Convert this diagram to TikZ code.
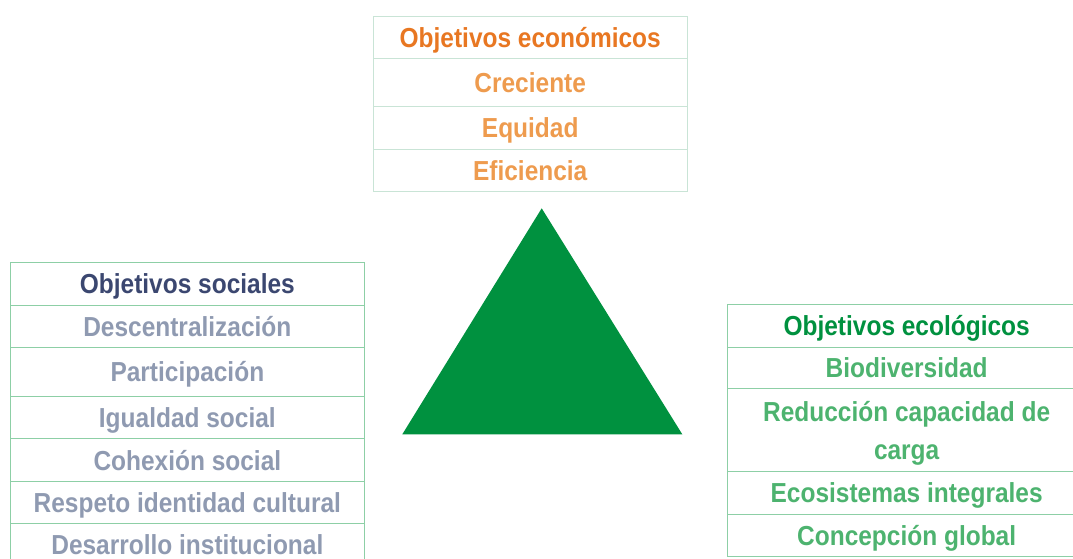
\documentclass[tikz,border=0pt]{standalone}
\usepackage{fontspec}
\setmainfont{Liberation Sans}[FakeStretch=0.89]
\definecolor{econHead}{RGB}{232,119,34}
\definecolor{econItem}{RGB}{238,155,78}
\definecolor{socHead}{RGB}{59,71,112}
\definecolor{socItem}{RGB}{143,154,177}
\definecolor{ecoHead}{RGB}{0,145,63}
\definecolor{ecoItem}{RGB}{77,179,111}
\definecolor{triGreen}{RGB}{0,145,63}
\definecolor{lineTop}{RGB}{201,228,214}
\definecolor{lineSide}{RGB}{141,207,166}
\tikzset{
  cell/.style={draw=#1, line width=1pt, rectangle, inner sep=0pt, align=center,
    text height=20pt, text depth=0pt,
    font=\fontsize{27.5}{38}\selectfont\bfseries},
  topcell/.style={cell=lineTop, minimum width=313.7pt},
  leftcell/.style={cell=lineSide, minimum width=353.3pt},
  rightcell/.style={cell=lineSide, minimum width=358.7pt},
}
\begin{document}
\begin{tikzpicture}[x=1pt,y=-1pt]
\useasboundingbox (0,0) rectangle (1073,558);
\clip (0,0) rectangle (1073,558);
% top table
\node[topcell, minimum height=42pt, text=econHead] (e0) at (530.2,37) {Objetivos económicos};
\node[topcell, minimum height=48.5pt, text=econItem] (e1) at (530.2,82.25) {Creciente};
\node[topcell, minimum height=42.8pt, text=econItem] (e2) at (530.2,127.9) {Equidad};
\node[topcell, minimum height=41.7pt, text=econItem] (e3) at (530.2,170.15) {Eficiencia};
% left table
\node[leftcell, minimum height=42.7pt, text=socHead] (s0) at (187.35,283.65) {Objetivos sociales};
\node[leftcell, minimum height=42.3pt, text=socItem] (s1) at (187.35,326.15) {Descentralización};
\node[leftcell, minimum height=49pt, text=socItem] (s2) at (187.35,371.8) {Participación};
\node[leftcell, minimum height=42.4pt, text=socItem] (s3) at (187.35,417.5) {Igualdad social};
\node[leftcell, minimum height=42.6pt, text=socItem] (s4) at (187.35,460) {Cohexión social};
\node[leftcell, minimum height=42.4pt, text=socItem] (s5) at (187.35,502.5) {Respeto identidad cultural};
\node[leftcell, minimum height=42.3pt, text=socItem] (s6) at (187.35,544.85) {Desarrollo institucional};
% right table
\node[rightcell, minimum height=43pt, text=ecoHead] (g0) at (906.65,325.5) {Objetivos ecológicos};
\node[rightcell, minimum height=41.7pt, text=ecoItem] (g1) at (906.65,367.85) {Biodiversidad};
\node[rightcell, minimum height=82.6pt, text=ecoItem, text height=58pt, text depth=0pt] (g2) at (906.65,430) {Reducción capacidad de\\carga};
\node[rightcell, minimum height=42.7pt, text=ecoItem] (g3) at (906.65,492.65) {Ecosistemas integrales};
\node[rightcell, minimum height=42.3pt, text=ecoItem] (g4) at (906.65,535.15) {Concepción global};
% triangle
\coordinate (apex) at (541.7,208.3);
\coordinate (bl) at (402.3,434.3);
\coordinate (br) at (682.3,434.3);
\fill[triGreen] (apex) -- (br) -- (bl) -- cycle;
\end{tikzpicture}
\end{document}
